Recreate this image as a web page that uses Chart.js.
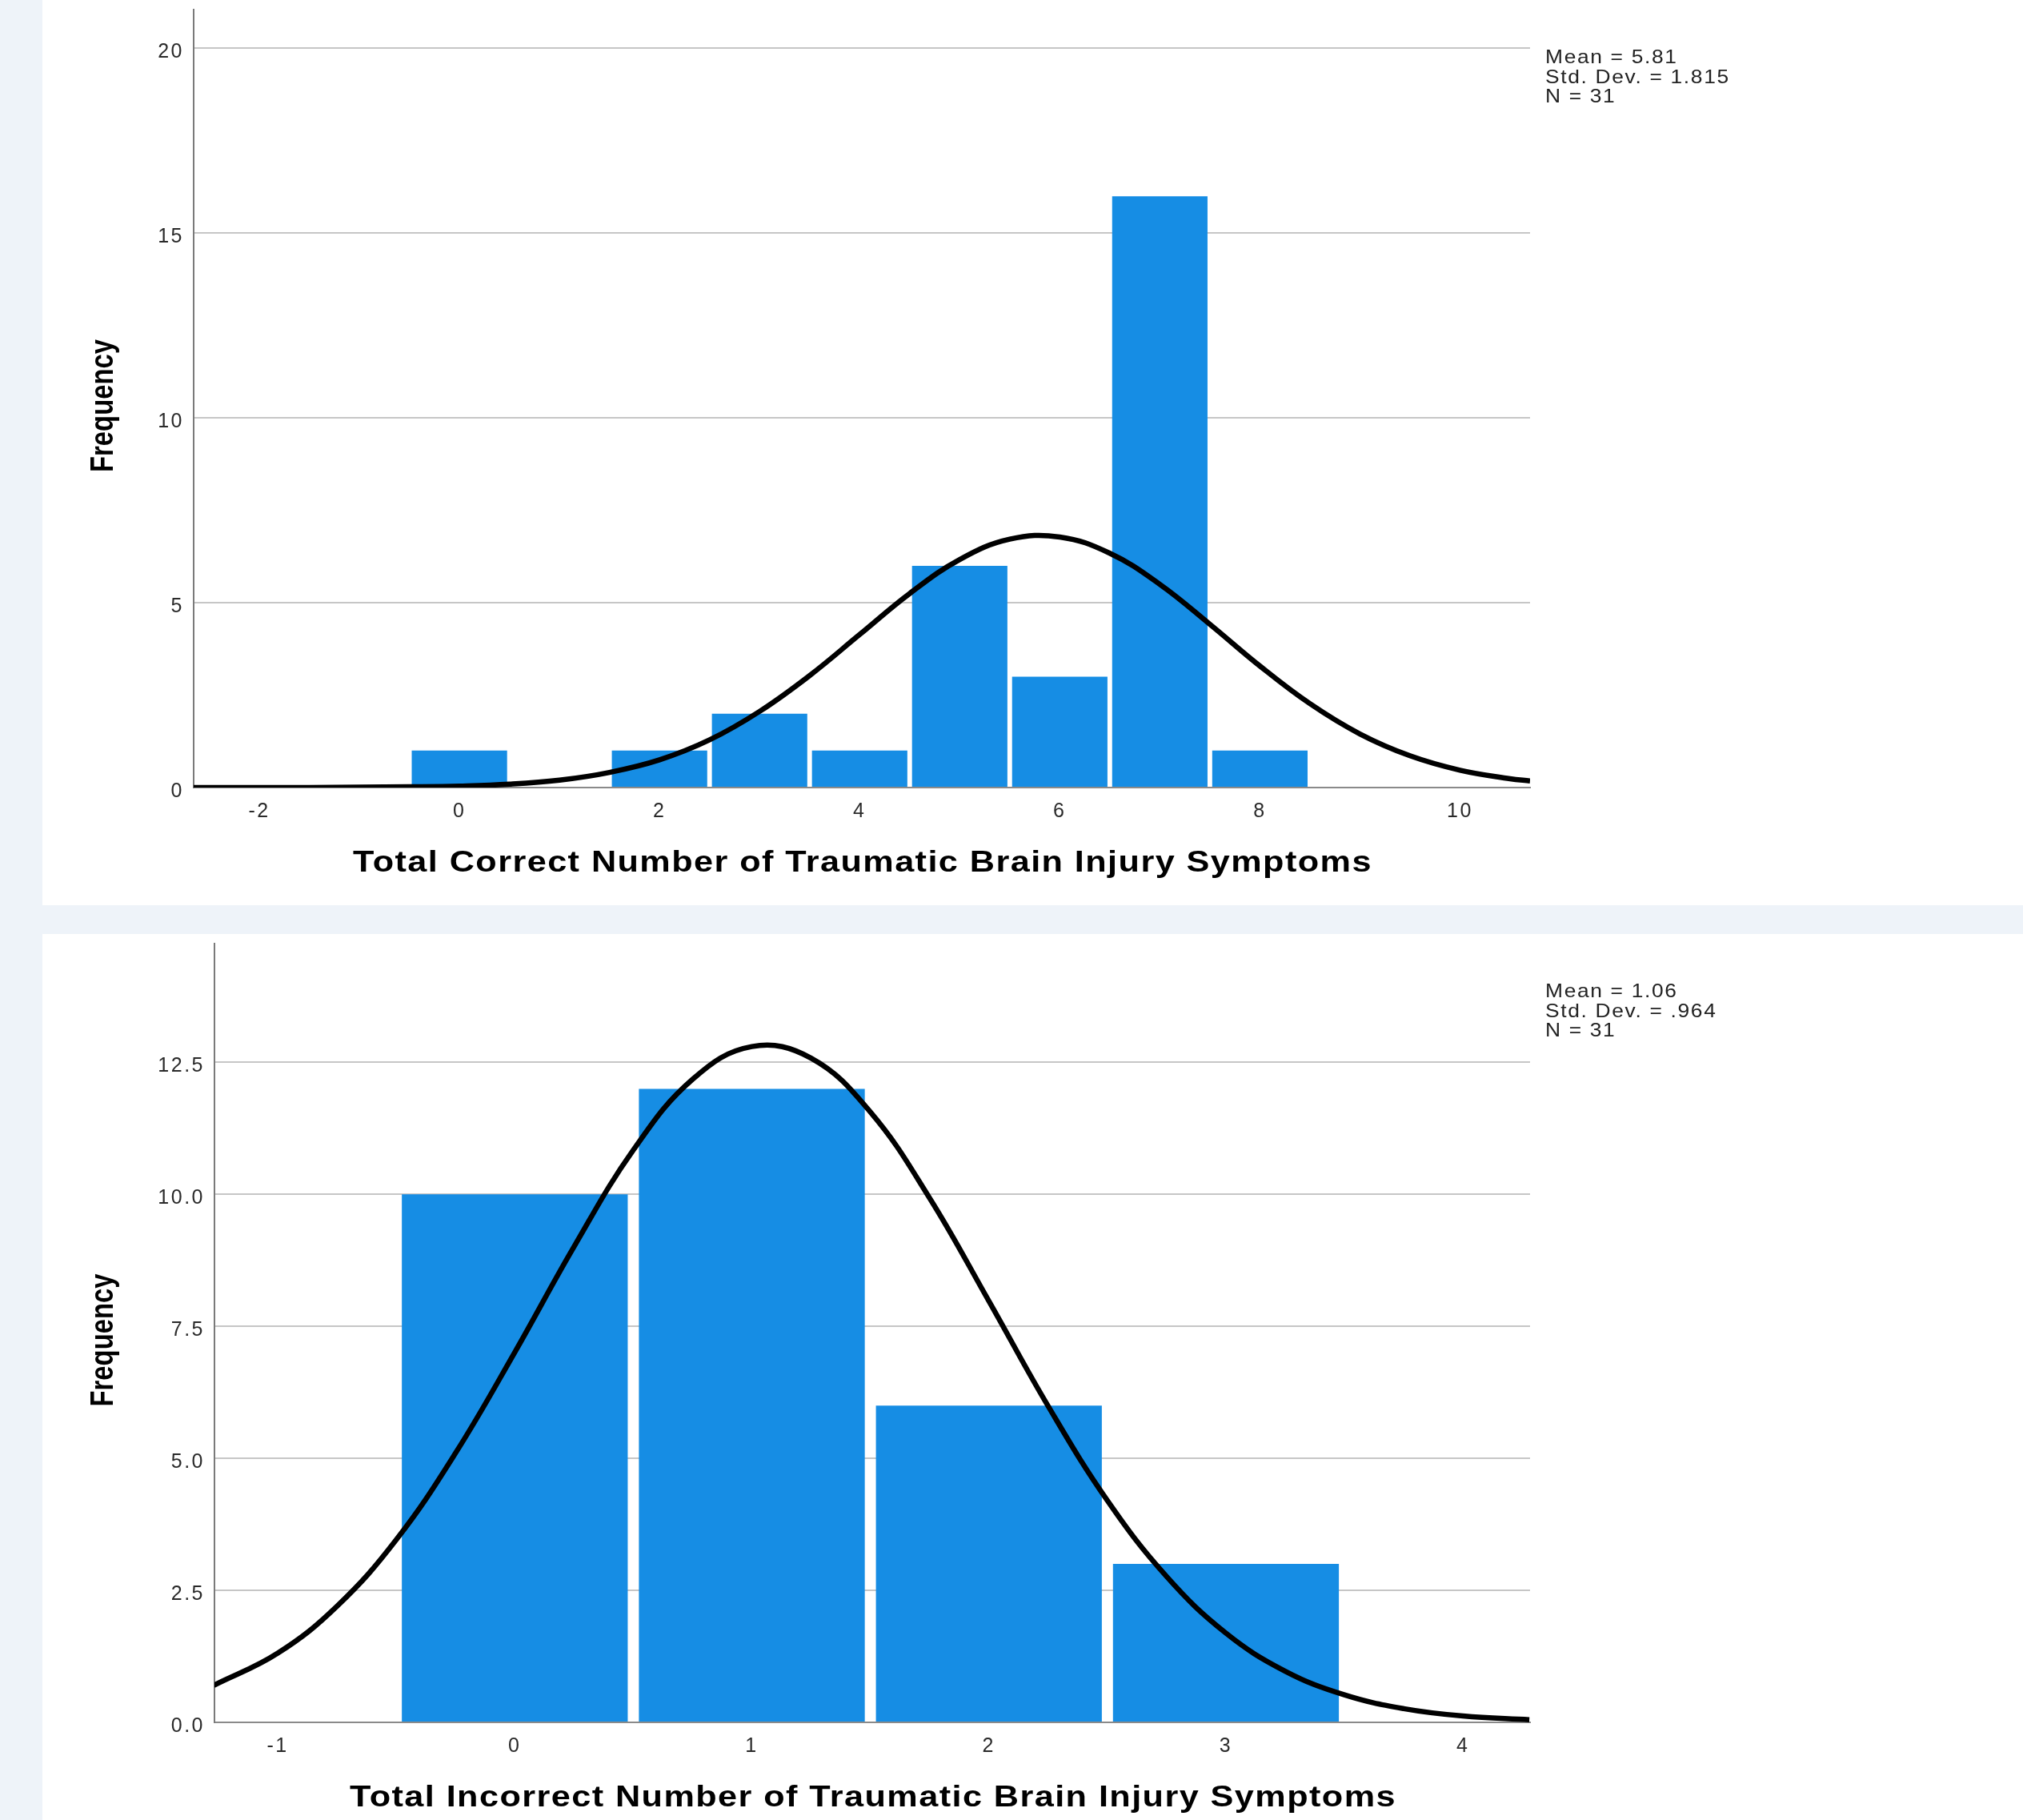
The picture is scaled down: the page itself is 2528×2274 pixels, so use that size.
<!DOCTYPE html>
<html>
<head>
<meta charset="utf-8">
<title>Traumatic Brain Injury Symptoms</title>
<script src="https://cdn.jsdelivr.net/npm/chart.js@4.4.1/dist/chart.umd.min.js"></script>
<style>
  body { margin: 0; width: 2528px; height: 2274px; background: #eef3f9; position: relative; overflow: hidden; }
  .panel { position: absolute; left: 53px; width: 2475px; background: #fff; }
  #panelTop { top: 0; height: 1131px; }
  #panelBottom { top: 1167px; height: 1107px; }
  canvas { display: block; }
</style>
</head>
<body>
<div class="panel" id="panelTop"><canvas id="correct" width="2475" height="1131"></canvas></div>
<div class="panel" id="panelBottom"><canvas id="incorrect" width="2475" height="1107"></canvas></div>
<script>
// Total correct
const correctBins = [0, 2, 3, 4, 5, 6, 7, 8];
const correctCounts = [1, 1, 2, 1, 6, 3, 16, 1];
const correctCurveX = [-2.66, -2, -1.5, -1, -0.5, 0, 0.5, 1, 1.5, 2, 2.5, 3, 3.5, 4, 4.5, 5, 5.5, 6, 6.5, 7, 7.5, 8, 8.5, 9, 9.5, 10, 10.5, 10.7];
const correctCurveY = [0, 0, 0, 0.01, 0.02, 0.04, 0.09, 0.2, 0.41, 0.75, 1.29, 2.06, 3.03, 4.14, 5.25, 6.17, 6.72, 6.78, 6.34, 5.5, 4.42, 3.29, 2.27, 1.45, 0.86, 0.47, 0.24, 0.18];
const correctXTicks = [-2, 0, 2, 4, 6, 8, 10];
const correctYTicks = [0, 5, 10, 15, 20];
const correctStats = ['Mean = 5.81', 'Std. Dev. = 1.815', 'N = 31'];

// Total incorrect
const incorrectBins = [0, 1, 2, 3];
const incorrectCounts = [10, 12, 6, 3];
const incorrectCurveX = [-1.27, -1, -0.75, -0.5, -0.25, 0, 0.25, 0.5, 0.75, 1, 1.25, 1.5, 1.75, 2, 2.25, 2.5, 2.75, 3, 3.25, 3.5, 3.75, 4, 4.28];
const incorrectCurveY = [0.7, 1.31, 2.2, 3.46, 5.1, 7.01, 9.01, 10.84, 12.18, 12.8, 12.58, 11.56, 9.93, 7.98, 5.99, 4.2, 2.76, 1.69, 0.97, 0.52, 0.26, 0.12, 0.05];
const incorrectXTicks = [-1, 0, 1, 2, 3, 4];
const incorrectYTicks = [0, 2.5, 5, 7.5, 10, 12.5];
const incorrectStats = ['Mean = 1.06', 'Std. Dev. = .964', 'N = 31'];

const FONT = '"Liberation Sans", Arial, sans-serif';
Chart.defaults.font.family = FONT;
Chart.defaults.color = '#2a2a2a';

// titles + stats box drawn by hand (SPSS text is a bit stretched)
const histText = {
  id: 'histText',
  beforeDraw(chart) {
    chart.ctx.letterSpacing = '2.5px';
  },
  afterDraw(chart, args, opts) {
    const ctx = chart.ctx;
    const area = chart.chartArea;
    ctx.save();
    ctx.fillStyle = '#000';
    ctx.textAlign = 'center';
    ctx.textBaseline = 'middle';
    ctx.font = 'bold 36px ' + FONT;
    ctx.letterSpacing = '1.2px';
    ctx.translate((area.left + area.right) / 2 + 1, area.bottom + 95);
    ctx.scale(1.2, 1);
    ctx.fillText(opts.xTitle, 0, 0);
    ctx.restore();

    ctx.save();
    ctx.fillStyle = '#000';
    ctx.textAlign = 'center';
    ctx.textBaseline = 'middle';
    ctx.font = 'bold 41px ' + FONT;
    ctx.letterSpacing = '0px';
    ctx.translate(77, (area.top + area.bottom) / 2 + 9);
    ctx.rotate(-Math.PI / 2);
    ctx.scale(0.8, 1);
    ctx.fillText(opts.yTitle, 0, 0);
    ctx.restore();

    ctx.save();
    ctx.fillStyle = '#222';
    ctx.textAlign = 'left';
    ctx.textBaseline = 'alphabetic';
    ctx.font = '24px ' + FONT;
    ctx.letterSpacing = '1.5px';
    ctx.translate(area.right + 19, 0);
    ctx.scale(1.1, 1);
    opts.lines.forEach((t, i) => ctx.fillText(t, 0, 79 + i * 24.5));
    ctx.restore();
  }
};

function histograma(id, c) {
  const ctx = document.getElementById(id).getContext('2d');
  return new Chart(ctx, {
    type: 'bar',
    data: {
      datasets: [{
        type: 'line',
        data: c.curveX.map((x, i) => ({ x: x, y: c.curveY[i] })),
        borderColor: '#000',
        borderWidth: 6.5,
        pointRadius: 0,
        fill: false,
        tension: 0.4,
        order: 0
      }, {
        type: 'bar',
        data: c.bins.map((b, i) => ({ x: b, y: c.counts[i] })),
        backgroundColor: '#168de4',
        borderWidth: 0,
        barPercentage: 0.953,
        categoryPercentage: 1,
        order: 1
      }]
    },
    options: {
      responsive: false,
      animation: false,
      layout: { padding: { left: 0, right: 616, top: 12, bottom: 0 } },
      plugins: {
        legend: { display: false },
        tooltip: { enabled: false },
        histText: { xTitle: c.xTitle, yTitle: 'Frequency', lines: c.stats }
      },
      scales: {
        x: {
          type: 'linear',
          min: c.xMin,
          max: c.xMax,
          offset: false,
          afterBuildTicks: s => { s.ticks = c.xTicks.map(v => ({ value: v })); },
          afterFit: s => {
            s.height = c.xHeight;
            s.paddingLeft = 0;
            s.paddingRight = 0;
          },
          grid: { display: false, drawTicks: false, offset: false },
          border: { color: '#8a8a8a', width: 2 },
          ticks: { font: { size: 25 }, padding: 15, maxRotation: 0, autoSkip: false, callback: v => String(v) }
        },
        y: {
          min: 0,
          max: c.yMax,
          afterBuildTicks: s => { s.ticks = c.yTicks.map(v => ({ value: v })); },
          afterFit: s => {
            s.width = c.yWidth;
            s.paddingTop = 0;
            s.paddingBottom = 0;
          },
          grid: { color: '#c6c6c6', lineWidth: 2, drawTicks: false },
          border: { color: '#7a7a7a', width: 2 },
          ticks: { font: { size: 25 }, padding: 12, labelOffset: 5, callback: v => v.toFixed(c.dec) }
        }
      }
    },
    plugins: [histText]
  });
}

document.addEventListener('DOMContentLoaded', () => {
  histograma('correct', {
    bins: correctBins, counts: correctCounts,
    curveX: correctCurveX, curveY: correctCurveY,
    xTicks: correctXTicks, yTicks: correctYTicks, stats: correctStats,
    xMin: -2.656, xMax: 10.7, yMax: 21.05, dec: 0,
    yWidth: 189, xHeight: 147,
    xTitle: 'Total Correct Number of Traumatic Brain Injury Symptoms'
  });
  histograma('incorrect', {
    bins: incorrectBins, counts: incorrectCounts,
    curveX: incorrectCurveX, curveY: incorrectCurveY,
    xTicks: incorrectXTicks, yTicks: incorrectYTicks, stats: incorrectStats,
    xMin: -1.267, xMax: 4.283, yMax: 14.75, dec: 1,
    yWidth: 215, xHeight: 122,
    xTitle: 'Total Incorrect Number of Traumatic Brain Injury Symptoms'
  });
});
</script>
</body>
</html>
